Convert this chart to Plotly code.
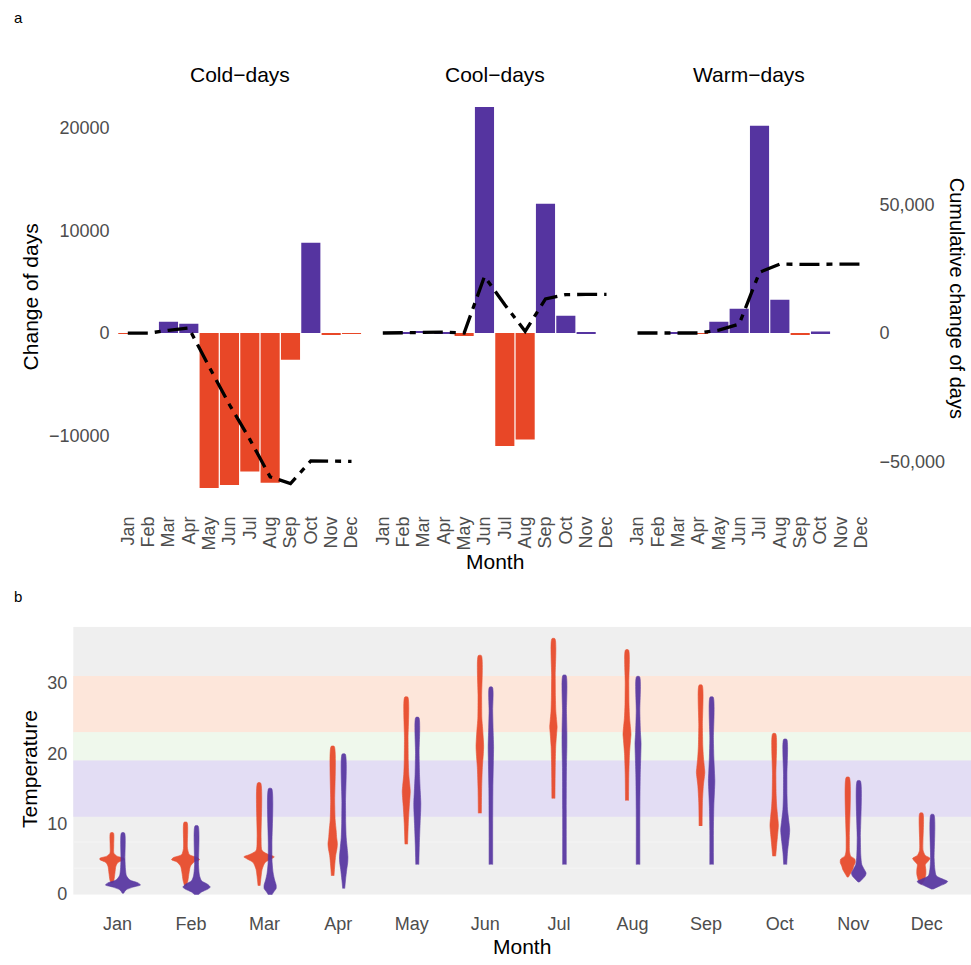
import numpy as np
import plotly.graph_objects as go

# ---------------- DATA ----------------
months = ["Jan", "Feb", "Mar", "Apr", "May", "Jun", "Jul", "Aug", "Sep", "Oct", "Nov", "Dec"]
panel_titles = ["Cold−days", "Cool−days", "Warm−days"]

# monthly change of days (bars)
cold_change = [-60, 0, 1100, 900, -15100, -14800, -13500, -14600, -2600, 8800, -100, -60]
cool_change = [0, 30, 200, 100, -300, 22030, -11010, -10370, 12590, 1690, 100, 0]
warm_change = [0, 0, 60, -60, 1100, 2360, 20200, 3230, -150, 150, 0, 0]
SEC_FACTOR = 4  # secondary axis = primary * 4

primary_ticks = [-10000, 0, 10000, 20000]
secondary_ticks = [-50000, 0, 50000]
temp_ticks = [0, 10, 20, 30]

# temperature bands (lower, upper)
band_warm = (23, 31)
band_cool = (19, 23)
band_cold = (11, 19)

# violin profiles: temperature knots and relative density width, group 1 (red) / group 2 (purple)
red_temps = {
    "Jan": [1.6, 2.0, 3.0, 4.0, 4.5, 4.9, 5.1, 5.4, 5.8, 7.0, 8.7],
    "Feb": [1.2, 2.0, 3.0, 4.0, 4.6, 4.9, 5.2, 5.6, 6.5, 10.2],
    "Mar": [1.2, 2.5, 3.5, 4.5, 5.0, 5.3, 5.6, 6.2, 8.0, 15.8],
    "Apr": [2.6, 4.0, 5.5, 6.5, 7.2, 8.0, 9.0, 10.5, 13.0, 21.0],
    "May": [7.1, 10.0, 12.5, 14.0, 14.6, 15.5, 17.0, 19.0, 22.0, 28.0],
    "Jun": [11.5, 15.0, 18.0, 20.0, 21.0, 22.0, 23.5, 25.0, 28.0, 33.9],
    "Jul": [13.6, 18.0, 21.0, 23.0, 23.7, 24.5, 26.0, 28.0, 31.0, 36.3],
    "Aug": [13.3, 17.0, 20.0, 22.0, 22.7, 23.5, 25.0, 27.0, 30.0, 34.7],
    "Sep": [9.7, 13.0, 15.5, 16.7, 17.3, 18.0, 19.5, 21.0, 24.0, 29.7],
    "Oct": [5.4, 7.0, 8.5, 9.8, 11.0, 12.5, 14.0, 17.0, 22.8],
    "Nov": [2.4, 3.0, 3.5, 4.0, 4.5, 5.0, 5.4, 6.0, 8.0, 16.6],
    "Dec": [1.4, 2.0, 2.8, 3.5, 4.2, 4.7, 5.1, 5.5, 6.2, 11.5],
}
red_density = {
    "Jan": [1, 2, 3, 4, 6, 12, 12, 5, 2, 1.8, 1.5],
    "Feb": [1, 2.5, 3.5, 5, 9, 14, 12, 4, 2, 1.5],
    "Mar": [1, 2, 3, 6, 12, 15.3, 10, 3, 2, 1.5],
    "Apr": [1.3, 2, 3, 4.3, 4.7, 4, 3.5, 2.5, 2, 1.5],
    "May": [1.3, 2, 3, 3.8, 4, 3.5, 2.5, 2, 1.8, 1.5],
    "Jun": [1.5, 1.8, 2.5, 3.5, 3.8, 3.5, 2.8, 2, 1.8, 1.5],
    "Jul": [1.5, 1.8, 2.3, 3.3, 3.7, 3.3, 2.4, 2, 1.8, 1.5],
    "Aug": [1.5, 1.8, 2.5, 3.6, 4, 3.6, 2.6, 2, 1.8, 1.5],
    "Sep": [1.5, 1.8, 2.8, 3.8, 4.2, 3.8, 2.8, 2.2, 1.8, 1.5],
    "Oct": [1.5, 2.5, 3.5, 4.2, 3.5, 2.5, 2, 1.7, 1.5],
    "Nov": [0.5, 3, 5, 6, 7.5, 7, 3, 1.8, 1.6, 1.5],
    "Dec": [0.5, 3, 4.5, 4.5, 4, 7, 8.7, 4, 1.8, 1.5],
}
purple_temps = {
    "Jan": [0.1, 0.6, 1.0, 1.3, 1.6, 2.0, 2.6, 3.5, 5.0, 8.7],
    "Feb": [-0.2, 0.3, 0.7, 1.0, 1.4, 1.9, 2.6, 4.0, 9.7],
    "Mar": [-0.3, 0.3, 0.8, 1.3, 2.0, 3.0, 4.5, 7.0, 15.0],
    "Apr": [0.8, 2.0, 3.5, 4.5, 5.3, 6.5, 8.0, 10.0, 13.0, 19.9],
    "May": [4.2, 7.0, 10.0, 12.0, 13.0, 14.5, 17.0, 20.0, 25.1],
    "Jun": [4.2, 10.0, 15.0, 19.0, 21.0, 23.0, 26.0, 29.4],
    "Jul": [4.2, 12.0, 18.0, 21.0, 23.0, 26.0, 31.1],
    "Aug": [4.2, 12.0, 17.0, 20.0, 21.5, 23.0, 26.0, 30.9],
    "Sep": [4.2, 9.0, 12.5, 14.5, 16.1, 17.5, 19.5, 22.0, 28.0],
    "Oct": [4.2, 6.0, 7.5, 9.1, 10.5, 12.0, 14.0, 17.0, 22.0],
    "Nov": [1.7, 2.2, 2.6, 3.0, 3.5, 4.2, 5.5, 8.0, 16.1],
    "Dec": [0.7, 1.2, 1.5, 1.8, 2.1, 2.6, 3.5, 5.0, 11.3],
}
purple_density = {
    "Jan": [0.5, 3, 10, 17.5, 15, 7, 3.5, 2.5, 2, 1.5],
    "Feb": [1, 5, 11, 13.7, 11, 5, 3, 2, 1.5],
    "Mar": [1, 3.5, 6, 6, 4.5, 3, 2, 1.8, 1.5],
    "Apr": [1, 1.8, 3, 4, 4.2, 3.5, 2.5, 2, 1.8, 1.5],
    "May": [1.5, 2, 2.8, 3.4, 3.5, 3, 2.2, 1.8, 1.5],
    "Jun": [1.8, 1.8, 2, 2.5, 2.7, 2.3, 1.8, 1.5],
    "Jul": [1.8, 1.8, 2, 2.4, 2.4, 2, 1.5],
    "Aug": [1.8, 1.8, 2.2, 2.8, 3, 2.4, 1.8, 1.5],
    "Sep": [1.8, 1.8, 2.2, 2.8, 3.2, 2.8, 2.2, 1.8, 1.5],
    "Oct": [1.5, 2.3, 3.5, 4.5, 3.5, 2.3, 1.8, 1.7, 1.5],
    "Nov": [0.5, 4, 6.5, 7.3, 5.5, 3, 2, 1.6, 1.5],
    "Dec": [0.5, 8, 13, 15.3, 11, 4, 2.5, 1.8, 1.5],
}
purple_low_points = {"Feb": -0.2, "Mar": -0.3}

# ---------------- STYLE ----------------
W, H = 971, 965
RED = "#E84727"
PURPLE = "#5534A0"
FONT = "Liberation Sans, Arial, sans-serif"
TICK_COLOR = "#4D4D4D"

def px_x(p):
    return p / W

def px_y(p):
    return 1 - p / H

top_x_domains = [(115.6, 363.7), (370.6, 618.7), (625.3, 873.4)]
top_y_px = (88.8, 512.3)
zero_px, px_per_10k = 336.5, 103.7
y_range = [(zero_px - top_y_px[1]) * 10000 / px_per_10k, (zero_px - top_y_px[0]) * 10000 / px_per_10k]

bot_x_px = (73.3, 971)
bot_y_px = (633.3, 904)
temp_range = [-0.07, 38.0]
x_range = [-0.6, 11.6]
VIOLIN_SCALE = 1 / 73.6
DODGE = 0.075

fig = go.Figure()

xs = list(range(len(months)))
xa_names = ["x", "x2", "x3"]
for vals, xa in zip([cold_change, cool_change, warm_change], xa_names):
    colors = [PURPLE if v > 0 else RED for v in vals]
    fig.add_trace(go.Bar(x=xs, y=vals, xaxis=xa, yaxis="y", marker_color=colors,
                         marker_line_width=0, width=0.94, hoverinfo="skip"))
for vals, xa in zip([cold_change, cool_change, warm_change], xa_names):
    cum = np.cumsum(vals)
    fig.add_trace(go.Scatter(x=xs, y=cum, xaxis=xa, yaxis="y2", mode="lines",
                             line=dict(color="black", width=3.3, dash="20px,7px,6px,7px")))

# violins
for i, m in enumerate(months):
    for temps_d, dens_d, color, off in [(red_temps, red_density, RED, -DODGE),
                                         (purple_temps, purple_density, PURPLE, DODGE)]:
        t = np.array(temps_d[m], dtype=float)
        w = np.array(dens_d[m], dtype=float) * VIOLIN_SCALE
        c = i + off
        vx = np.concatenate([c + w, (c - w)[::-1]])
        vy = np.concatenate([t, t[::-1]])
        fig.add_trace(go.Scatter(x=vx, y=vy, xaxis="x4", yaxis="y3", mode="lines",
                                 fill="toself", fillcolor=color, opacity=0.92,
                                 line=dict(color=color, width=0.6, shape="spline", smoothing=0.7),
                                 hoverinfo="skip"))
lp_x = [months.index(m) + DODGE for m in purple_low_points]
lp_y = list(purple_low_points.values())
fig.add_trace(go.Scatter(x=lp_x, y=lp_y, xaxis="x4", yaxis="y3", mode="markers",
                         marker=dict(color="#1010FF", size=4), cliponaxis=False))

tickfont = dict(family=FONT, size=18, color=TICK_COLOR)
layout = dict(
    width=W, height=H, margin=dict(l=0, r=0, t=0, b=0),
    paper_bgcolor="white", plot_bgcolor="rgba(0,0,0,0)",
    showlegend=False, font=dict(family=FONT),
)
for k, (xa, dom) in enumerate(zip(["xaxis", "xaxis2", "xaxis3"], top_x_domains)):
    layout[xa] = dict(domain=[px_x(dom[0]), px_x(dom[1])], range=x_range, anchor="y",
                      tickvals=xs, ticktext=months, tickangle=-90, tickfont=tickfont,
                      showgrid=False, zeroline=False, showline=False, ticks="",
                      ticklabelstandoff=5)
layout["yaxis"] = dict(domain=[px_y(top_y_px[1]), px_y(top_y_px[0])], range=y_range, anchor="x",
                       tickvals=primary_ticks, tickformat="d", tickfont=tickfont,
                       showgrid=False, zeroline=False, showline=False, ticks="",
                       ticklabelstandoff=5)
layout["yaxis2"] = dict(overlaying="y", side="right", anchor="x3",
                        range=[y_range[0] * SEC_FACTOR, y_range[1] * SEC_FACTOR],
                        tickvals=secondary_ticks, tickformat=",d", tickfont=tickfont,
                        showgrid=False, zeroline=False, showline=False, ticks="",
                        ticklabelstandoff=5)
layout["xaxis4"] = dict(domain=[px_x(bot_x_px[0]), px_x(bot_x_px[1])], range=x_range, anchor="y3",
                        tickvals=xs, ticktext=months, tickfont=tickfont,
                        showgrid=False, zeroline=False, showline=False, ticks="",
                        ticklabelstandoff=16)
layout["yaxis3"] = dict(domain=[px_y(bot_y_px[1]), px_y(bot_y_px[0])], range=temp_range, anchor="x4",
                        tickvals=temp_ticks, tickfont=tickfont,
                        showgrid=False, zeroline=False, showline=False, ticks="",
                        ticklabelstandoff=5)

shapes = [
    dict(type="rect", xref="x4 domain", yref="y3", x0=0, x1=1, y0=temp_range[0], y1=temp_range[1],
         fillcolor="#EFEFEF", line=dict(width=0), layer="below"),
    dict(type="rect", xref="x4 domain", yref="y3", x0=0, x1=1, y0=band_warm[0], y1=band_warm[1],
         fillcolor="#FDE6DA", line=dict(width=0), layer="below"),
    dict(type="rect", xref="x4 domain", yref="y3", x0=0, x1=1, y0=band_cool[0], y1=band_cool[1],
         fillcolor="#EFF8EC", line=dict(width=0), layer="below"),
    dict(type="rect", xref="x4 domain", yref="y3", x0=0, x1=1, y0=band_cold[0], y1=band_cold[1],
         fillcolor="#E3DDF4", line=dict(width=0), layer="below"),
]
for yy in [3.7, 7.4]:
    shapes.append(dict(type="line", xref="x4 domain", yref="y3", x0=0, x1=1, y0=yy, y1=yy,
                       line=dict(color="#F5F5F5", width=1), layer="below"))
layout["shapes"] = shapes

ann = []
def add_text(text, xp, yp, size, color="black", angle=0, xanchor="center"):
    ann.append(dict(text=text, x=px_x(xp), y=px_y(yp), xref="paper", yref="paper",
                    showarrow=False, textangle=angle, xanchor=xanchor, yanchor="middle",
                    font=dict(family=FONT, size=size, color=color)))

add_text("a", 12, 18, 15, xanchor="left")
add_text("b", 12, 603, 15, xanchor="left")
for title, dom in zip(panel_titles, top_x_domains):
    add_text(title, (dom[0] + dom[1]) / 2, 75, 21)
add_text("Change of days", 30, 300.5, 21, angle=-90)
add_text("Cumulative change of days", 957, 300.8, 20, angle=90)
add_text("Month", 494.5, 567, 21)
add_text("Month", 522, 956, 21)
add_text("Temperature", 30, 777, 21, angle=-90)
layout["annotations"] = ann

fig.update_layout(**layout)
fig.write_html("out.html")
